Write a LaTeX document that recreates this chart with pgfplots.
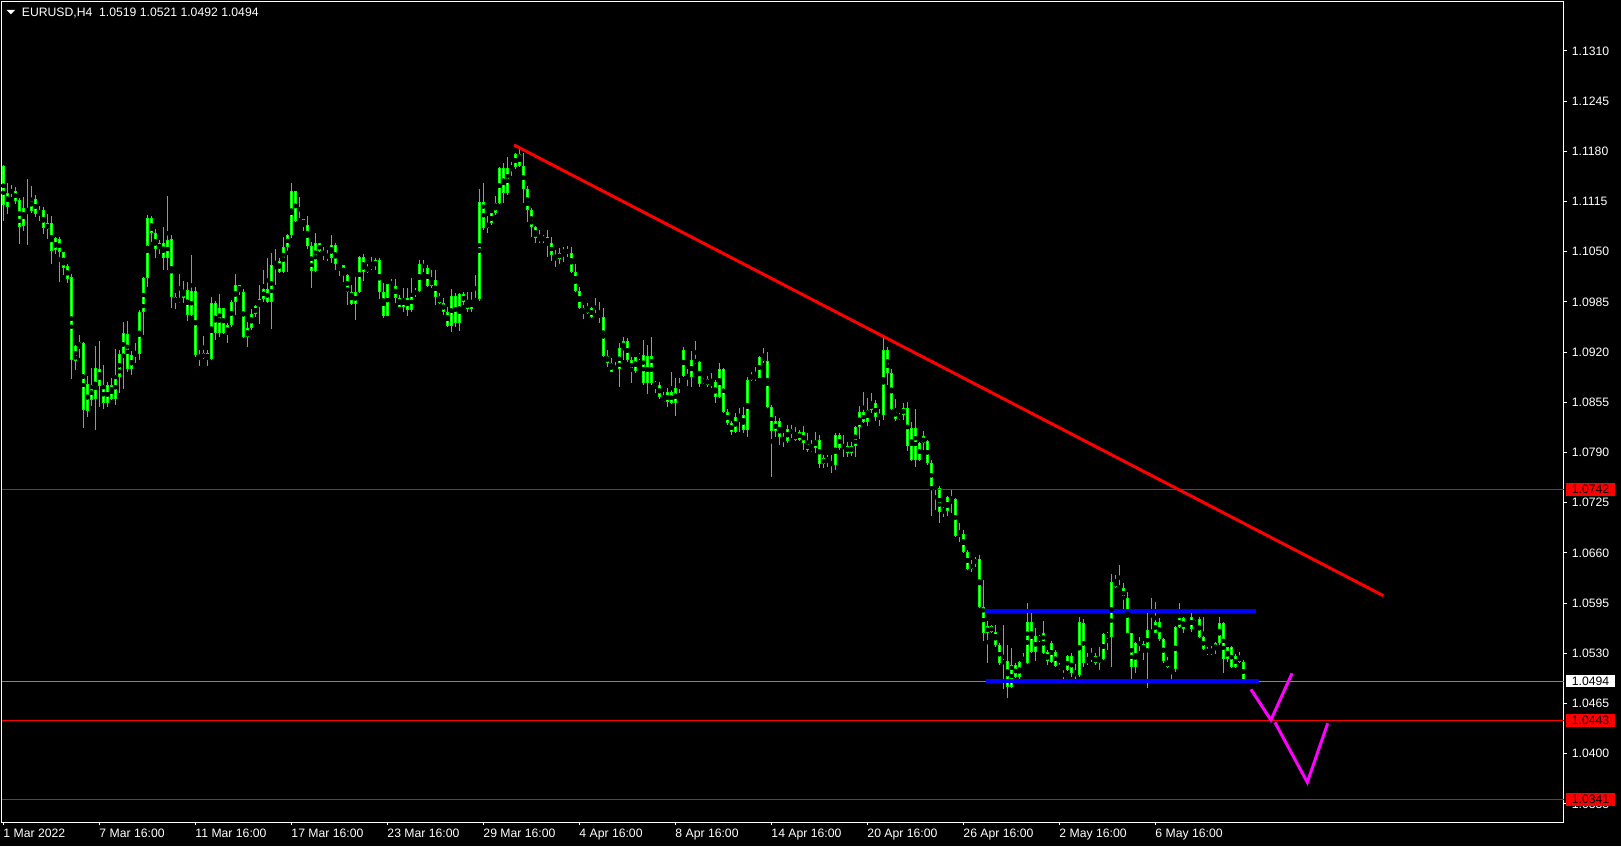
\documentclass[border=0pt]{standalone}
\usepackage{pgfplots}
\pgfplotsset{compat=1.18}
\usepackage{pgfplotstable}
\usepackage{fontspec}
\setmainfont{Liberation Sans}
\definecolor{mtgreen}{RGB}{0,255,0}
\definecolor{bidgray}{RGB}{119,136,153}
\definecolor{mtred}{RGB}{255,0,0}
\definecolor{mtblue}{RGB}{0,0,255}
\definecolor{mtmag}{RGB}{255,0,255}
\newcommand{\mtfont}{\fontsize{12.2}{14}\selectfont}

\pgfplotstableread{
i o h l c
0 1.1161 1.1163 1.1090 1.1110
1 1.1108 1.1139 1.1099 1.1126
2 1.1126 1.1136 1.1121 1.1130
3 1.1129 1.1134 1.1112 1.1116
4 1.1117 1.1120 1.1060 1.1082
5 1.1083 1.1121 1.1077 1.1107
6 1.1105 1.1144 1.1059 1.1103
7 1.1103 1.1135 1.1100 1.1120
8 1.1118 1.1123 1.1095 1.1099
9 1.1099 1.1109 1.1090 1.1104
10 1.1104 1.1108 1.1073 1.1081
11 1.1079 1.1099 1.1066 1.1087
12 1.1087 1.1096 1.1034 1.1051
13 1.1052 1.1069 1.1047 1.1068
14 1.1066 1.1069 1.1011 1.1050
15 1.1050 1.1050 1.1020 1.1029
16 1.1031 1.1034 1.1010 1.1015
17 1.1017 1.1021 1.0885 1.0910
18 1.0909 1.0929 1.0897 1.0928
19 1.0927 1.0942 1.0912 1.0933
20 1.0932 1.0933 1.0822 1.0845
21 1.0844 1.0889 1.0836 1.0879
22 1.0877 1.0899 1.0850 1.0858
23 1.0859 1.0928 1.0819 1.0899
24 1.0898 1.0934 1.0849 1.0876
25 1.0877 1.0903 1.0846 1.0854
26 1.0854 1.0881 1.0849 1.0877
27 1.0877 1.0887 1.0858 1.0860
28 1.0859 1.0924 1.0851 1.0890
29 1.0888 1.0923 1.0867 1.0918
30 1.0915 1.0959 1.0872 1.0945
31 1.0943 1.0960 1.0894 1.0898
32 1.0898 1.0921 1.0890 1.0916
33 1.0916 1.0932 1.0906 1.0918
34 1.0918 1.0975 1.0910 1.0972
35 1.0972 1.1017 1.0942 1.1016
36 1.1016 1.1098 1.1004 1.1094
37 1.1094 1.1096 1.1063 1.1074
38 1.1074 1.1079 1.1042 1.1053
39 1.1053 1.1065 1.1047 1.1061
40 1.1061 1.1082 1.1026 1.1042
41 1.1042 1.1122 1.1026 1.1065
42 1.1066 1.1072 1.0977 1.0991
43 1.0991 1.0997 1.0976 1.0985
44 1.0985 1.1021 1.0984 1.0990
45 1.0990 1.1012 1.0984 1.1000
46 1.1000 1.1011 1.0960 1.0968
47 1.0968 1.1046 1.0967 1.0999
48 1.0999 1.1004 1.0914 1.0916
49 1.0916 1.0923 1.0902 1.0912
50 1.0912 1.0941 1.0911 1.0919
51 1.0919 1.0923 1.0902 1.0911
52 1.0911 1.0991 1.0910 1.0984
53 1.0984 1.0986 1.0936 1.0945
54 1.0945 1.0995 1.0940 1.0977
55 1.0977 1.0977 1.0943 1.0945
56 1.0943 1.0958 1.0932 1.0955
57 1.0955 1.0988 1.0953 1.0985
58 1.0985 1.1021 1.0968 1.1007
59 1.1007 1.1007 1.0994 1.0998
60 1.0998 1.1002 1.0938 1.0940
61 1.0940 1.0959 1.0927 1.0951
62 1.0951 1.0976 1.0949 1.0969
63 1.0969 1.0981 1.0966 1.0980
64 1.0980 1.1007 1.0956 1.0989
65 1.0989 1.1026 1.0985 1.1002
66 1.1002 1.1042 1.0984 1.0985
67 1.0985 1.1048 1.0950 1.1033
68 1.1033 1.1053 1.1007 1.1038
69 1.1038 1.1042 1.1023 1.1024
70 1.1024 1.1069 1.1023 1.1056
71 1.1056 1.1073 1.1024 1.1072
72 1.1072 1.1139 1.1068 1.1129
73 1.1129 1.1129 1.1089 1.1090
74 1.1090 1.1121 1.1089 1.1092
75 1.1092 1.1093 1.1077 1.1085
76 1.1085 1.1096 1.1053 1.1057
77 1.1057 1.1063 1.1003 1.1025
78 1.1025 1.1074 1.1024 1.1061
79 1.1061 1.1062 1.1050 1.1051
80 1.1051 1.1056 1.1039 1.1046
81 1.1046 1.1052 1.1038 1.1042
82 1.1042 1.1072 1.1035 1.1059
83 1.1059 1.1061 1.1027 1.1034
84 1.1034 1.1037 1.1019 1.1033
85 1.1033 1.1033 1.1011 1.1020
86 1.1020 1.1021 1.0981 1.0998
87 1.0998 1.1007 1.0981 1.0982
88 1.0982 1.1017 1.0962 1.0998
89 1.0998 1.1044 1.0997 1.1043
90 1.1043 1.1047 1.1012 1.1024
91 1.1024 1.1034 1.1022 1.1030
92 1.1030 1.1043 1.1026 1.1031
93 1.1031 1.1042 1.1026 1.1039
94 1.1039 1.1042 1.0989 1.0998
95 1.0998 1.1010 1.0964 1.0967
96 1.0967 1.1008 1.0967 1.1008
97 1.1008 1.1015 1.1004 1.1006
98 1.1006 1.1015 1.0984 1.0990
99 1.0990 1.0994 1.0978 1.0978
100 1.0978 1.1003 1.0972 1.0990
101 1.0990 1.1003 1.0967 1.0975
102 1.0975 1.1016 1.0972 1.0995
103 1.0995 1.1003 1.0991 1.0999
104 1.0999 1.1039 1.0998 1.1034
105 1.1034 1.1039 1.1024 1.1029
106 1.1029 1.1033 1.1004 1.1006
107 1.1006 1.1026 1.1003 1.1013
108 1.1013 1.1026 1.0981 1.0991
109 1.0991 1.0997 1.0982 1.0984
110 1.0984 1.0990 1.0968 1.0972
111 1.0972 1.0978 1.0953 1.0954
112 1.0954 1.1002 1.0946 1.0993
113 1.0993 1.0997 1.0953 1.0958
114 1.0958 1.0997 1.0947 1.0995
115 1.0995 1.0998 1.0981 1.0985
116 1.0985 1.0998 1.0972 1.0976
117 1.0976 1.0998 1.0972 1.0986
118 1.0986 1.1020 1.0985 1.0989
119 1.0989 1.1131 1.0986 1.1114
120 1.1114 1.1139 1.1078 1.1081
121 1.1081 1.1096 1.1074 1.1087
122 1.1087 1.1100 1.1085 1.1100
123 1.1100 1.1122 1.1098 1.1113
124 1.1113 1.1160 1.1112 1.1158
125 1.1158 1.1165 1.1113 1.1126
126 1.1126 1.1173 1.1123 1.1158
127 1.1158 1.1166 1.1148 1.1160
128 1.1160 1.1178 1.1157 1.1177
129 1.1177 1.1187 1.1160 1.1161
130 1.1161 1.1178 1.1113 1.1131
131 1.1131 1.1135 1.1089 1.1104
132 1.1104 1.1107 1.1069 1.1082
133 1.1082 1.1083 1.1061 1.1068
134 1.1068 1.1078 1.1061 1.1065
135 1.1065 1.1072 1.1061 1.1069
136 1.1069 1.1078 1.1043 1.1061
137 1.1061 1.1069 1.1038 1.1046
138 1.1046 1.1052 1.1030 1.1041
139 1.1041 1.1055 1.1034 1.1048
140 1.1048 1.1056 1.1037 1.1052
141 1.1052 1.1057 1.1043 1.1049
142 1.1049 1.1056 1.1022 1.1024
143 1.1024 1.1034 1.0998 1.0999
144 1.0999 1.1004 1.0976 1.0977
145 1.0977 1.0981 1.0963 1.0971
146 1.0971 1.0984 1.0970 1.0977
147 1.0977 1.0978 1.0964 1.0966
148 1.0966 1.0990 1.0965 1.0969
149 1.0969 1.0985 1.0958 1.0966
150 1.0966 1.0977 1.0914 1.0915
151 1.0915 1.0923 1.0901 1.0906
152 1.0906 1.0912 1.0894 1.0894
153 1.0894 1.0907 1.0893 1.0898
154 1.0898 1.0932 1.0875 1.0925
155 1.0925 1.0940 1.0910 1.0934
156 1.0934 1.0938 1.0907 1.0910
157 1.0910 1.0914 1.0880 1.0896
158 1.0896 1.0914 1.0893 1.0914
159 1.0914 1.0919 1.0910 1.0916
160 1.0916 1.0936 1.0877 1.0880
161 1.0880 1.0929 1.0866 1.0915
162 1.0915 1.0940 1.0877 1.0880
163 1.0880 1.0883 1.0867 1.0877
164 1.0877 1.0881 1.0860 1.0862
165 1.0862 1.0868 1.0855 1.0855
166 1.0855 1.0873 1.0849 1.0868
167 1.0868 1.0894 1.0853 1.0854
168 1.0854 1.0887 1.0837 1.0873
169 1.0873 1.0887 1.0867 1.0877
170 1.0889 1.0927 1.0888 1.0923
171 1.0890 1.0898 1.0876 1.0888
172 1.0888 1.0921 1.0875 1.0910
173 1.0906 1.0934 1.0905 1.0911
174 1.0907 1.0908 1.0875 1.0879
175 1.0880 1.0887 1.0879 1.0885
176 1.0885 1.0889 1.0875 1.0877
177 1.0877 1.0893 1.0873 1.0881
178 1.0881 1.0884 1.0854 1.0862
179 1.0862 1.0906 1.0861 1.0898
180 1.0898 1.0899 1.0841 1.0842
181 1.0842 1.0846 1.0826 1.0828
182 1.0828 1.0831 1.0813 1.0817
183 1.0817 1.0841 1.0815 1.0836
184 1.0836 1.0848 1.0817 1.0839
185 1.0839 1.0849 1.0815 1.0819
186 1.0819 1.0888 1.0810 1.0884
187 1.0884 1.0894 1.0883 1.0890
188 1.0890 1.0901 1.0883 1.0885
189 1.0886 1.0915 1.0886 1.0914
190 1.0914 1.0925 1.0906 1.0909
191 1.0909 1.0920 1.0848 1.0849
192 1.0849 1.0851 1.0758 1.0818
193 1.0818 1.0837 1.0810 1.0831
194 1.0831 1.0835 1.0800 1.0810
195 1.0810 1.0815 1.0797 1.0805
196 1.0805 1.0826 1.0802 1.0820
197 1.0820 1.0826 1.0809 1.0814
198 1.0814 1.0823 1.0805 1.0806
199 1.0806 1.0819 1.0805 1.0817
200 1.0817 1.0824 1.0793 1.0802
201 1.0802 1.0815 1.0791 1.0793
202 1.0793 1.0806 1.0791 1.0796
203 1.0796 1.0817 1.0790 1.0806
204 1.0806 1.0813 1.0770 1.0775
205 1.0775 1.0787 1.0770 1.0783
206 1.0783 1.0787 1.0771 1.0779
207 1.0779 1.0787 1.0763 1.0774
208 1.0774 1.0815 1.0767 1.0813
209 1.0813 1.0815 1.0793 1.0796
210 1.0796 1.0813 1.0784 1.0798
211 1.0798 1.0804 1.0784 1.0790
212 1.0790 1.0804 1.0785 1.0798
213 1.0798 1.0824 1.0784 1.0823
214 1.0823 1.0850 1.0807 1.0842
215 1.0842 1.0868 1.0828 1.0830
216 1.0830 1.0860 1.0824 1.0845
217 1.0845 1.0867 1.0841 1.0854
218 1.0854 1.0858 1.0831 1.0836
219 1.0836 1.0846 1.0824 1.0839
220 1.0839 1.0938 1.0832 1.0923
221 1.0923 1.0927 1.0877 1.0893
222 1.0893 1.0898 1.0845 1.0846
223 1.0846 1.0859 1.0831 1.0833
224 1.0833 1.0841 1.0832 1.0839
225 1.0839 1.0854 1.0832 1.0848
226 1.0848 1.0855 1.0792 1.0798
227 1.0780 1.0830 1.0779 1.0822
228 1.0822 1.0846 1.0771 1.0780
229 1.0780 1.0804 1.0779 1.0802
230 1.0802 1.0818 1.0793 1.0811
231 1.0805 1.0806 1.0774 1.0776
232 1.0776 1.0780 1.0708 1.0745
233 1.0745 1.0748 1.0716 1.0744
234 1.0744 1.0746 1.0699 1.0713
235 1.0713 1.0720 1.0707 1.0718
236 1.0714 1.0734 1.0708 1.0732
237 1.0732 1.0741 1.0712 1.0730
238 1.0730 1.0731 1.0681 1.0682
239 1.0682 1.0699 1.0674 1.0685
240 1.0685 1.0690 1.0660 1.0661
241 1.0661 1.0664 1.0638 1.0639
242 1.0639 1.0651 1.0635 1.0646
243 1.0646 1.0655 1.0642 1.0652
244 1.0652 1.0657 1.0589 1.0590
245 1.0590 1.0625 1.0546 1.0556
246 1.0556 1.0572 1.0517 1.0565
247 1.0565 1.0567 1.0556 1.0558
248 1.0558 1.0567 1.0538 1.0541
249 1.0541 1.0543 1.0515 1.0517
250 1.0517 1.0567 1.0484 1.0520
251 1.0520 1.0541 1.0472 1.0486
252 1.0486 1.0537 1.0485 1.0515
253 1.0515 1.0517 1.0498 1.0499
254 1.0499 1.0520 1.0493 1.0519
255 1.0519 1.0530 1.0516 1.0517
256 1.0517 1.0595 1.0516 1.0571
257 1.0571 1.0582 1.0530 1.0532
258 1.0532 1.0563 1.0520 1.0552
259 1.0552 1.0554 1.0545 1.0546
260 1.0556 1.0572 1.0529 1.0530
261 1.0532 1.0534 1.0515 1.0520
262 1.0519 1.0546 1.0517 1.0543
263 1.0532 1.0534 1.0512 1.0514
264 1.0514 1.0517 1.0508 1.0510
265 1.0510 1.0513 1.0491 1.0512
266 1.0508 1.0528 1.0507 1.0526
267 1.0526 1.0530 1.0499 1.0504
268 1.0504 1.0516 1.0495 1.0502
269 1.0502 1.0577 1.0499 1.0571
270 1.0569 1.0574 1.0512 1.0517
271 1.0517 1.0530 1.0515 1.0523
272 1.0523 1.0537 1.0519 1.0526
273 1.0526 1.0530 1.0515 1.0517
274 1.0517 1.0538 1.0508 1.0524
275 1.0523 1.0556 1.0521 1.0555
276 1.0555 1.0558 1.0534 1.0551
277 1.0551 1.0633 1.0512 1.0623
278 1.0623 1.0632 1.0615 1.0616
279 1.0616 1.0644 1.0612 1.0614
280 1.0614 1.0621 1.0583 1.0602
281 1.0602 1.0609 1.0556 1.0556
282 1.0556 1.0557 1.0494 1.0512
283 1.0512 1.0545 1.0504 1.0543
284 1.0543 1.0551 1.0533 1.0542
285 1.0542 1.0546 1.0521 1.0534
286 1.0534 1.0583 1.0485 1.0560
287 1.0560 1.0602 1.0556 1.0556
288 1.0556 1.0596 1.0556 1.0571
289 1.0571 1.0576 1.0546 1.0549
290 1.0549 1.0550 1.0517 1.0520
291 1.0520 1.0525 1.0511 1.0512
292 1.0512 1.0514 1.0497 1.0510
293 1.0510 1.0565 1.0506 1.0564
294 1.0564 1.0595 1.0563 1.0576
295 1.0576 1.0577 1.0556 1.0561
296 1.0561 1.0564 1.0560 1.0562
297 1.0562 1.0583 1.0558 1.0577
298 1.0577 1.0586 1.0572 1.0574
299 1.0574 1.0577 1.0550 1.0551
300 1.0551 1.0577 1.0534 1.0535
301 1.0535 1.0538 1.0528 1.0530
302 1.0530 1.0539 1.0528 1.0534
303 1.0534 1.0544 1.0529 1.0543
304 1.0543 1.0577 1.0541 1.0569
305 1.0569 1.0570 1.0504 1.0523
306 1.0523 1.0538 1.0519 1.0538
307 1.0538 1.0540 1.0511 1.0512
308 1.0512 1.0529 1.0511 1.0526
309 1.0526 1.0532 1.0517 1.0519
310 1.0519 1.0521 1.0492 1.0494
}\ohlc

\begin{document}
\begin{tikzpicture}[x=1pt,y=1pt]
\fill[black] (0,0) rectangle (1621,846);
\useasboundingbox (0,0) rectangle (1621,846);
\begin{axis}[
  at={(2pt,24pt)}, anchor=south west,
  scale only axis, width=1562pt, height=820pt,
  xmin=-0.325, xmax=390.175, ymin=1.03115, ymax=1.13734,
  axis line style={white, line width=1pt},
  tick style={white, line width=1pt},
  tick align=outside, major tick length=3pt,
  xtick pos=left, ytick pos=right, yticklabel pos=right,
  xtick={0,24,48,72,96,120,144,168,192,216,240,264,288},
  xticklabels={1 Mar 2022,7 Mar 16:00,11 Mar 16:00,17 Mar 16:00,23 Mar 16:00,29 Mar 16:00,4 Apr 16:00,8 Apr 16:00,14 Apr 16:00,20 Apr 16:00,26 Apr 16:00,2 May 16:00,6 May 16:00},
  ytick={1.0335,1.0400,1.0465,1.0530,1.0595,1.0660,1.0725,1.0790,1.0855,1.0920,1.0985,1.1050,1.1115,1.1180,1.1245,1.1310},
  yticklabels={1.0335,1.0400,1.0465,1.0530,1.0595,1.0660,1.0725,1.0790,1.0855,1.0920,1.0985,1.1050,1.1115,1.1180,1.1245,1.1310},
  every tick label/.append style={font=\mtfont, text=white, inner sep=0pt},
  xticklabel style={anchor=north west, yshift=-4pt},
  yticklabel style={anchor=west, xshift=4.7pt},
]
% wicks
\addplot[only marks, mark=none, forget plot,
  error bars/.cd, y dir=both, y explicit, error mark=none,
  error bar style={mtgreen, line width=1pt}]
  table[x=i, y expr={(\thisrow{h}+\thisrow{l})/2}, y error expr={(\thisrow{h}-\thisrow{l})/2}] {\ohlc};
% bodies (outline)
\addplot[only marks, mark=none, forget plot,
  error bars/.cd, y dir=both, y explicit, error mark=none,
  error bar style={mtgreen, line width=3pt}]
  table[x=i, y expr={(\thisrow{o}+\thisrow{c})/2}, y error expr={max(abs(\thisrow{o}-\thisrow{c})/2,0.000065)}] {\ohlc};
% body interior (white)
\addplot[only marks, mark=none, forget plot,
  error bars/.cd, y dir=both, y explicit, error mark=none,
  error bar style={white, line width=1pt}]
  table[x=i, y expr={(\thisrow{o}+\thisrow{c})/2}, y error expr={max(abs(\thisrow{o}-\thisrow{c})/2-0.00013,0)}] {\ohlc};
% horizontal levels
\addplot[mtred, line width=1pt] coordinates {(-0.325,1.0742) (390.175,1.0742)};
\addplot[mtred, line width=1pt] coordinates {(-0.325,1.0443) (390.175,1.0443)};
\addplot[mtred, line width=1pt] coordinates {(-0.325,1.0341) (390.175,1.0341)};
\addplot[bidgray, line width=1pt] coordinates {(-0.325,1.0494) (390.175,1.0494)};
% range box lines
\addplot[mtblue, line width=4pt, line cap=butt] coordinates {(245.4,1.05845) (313.1,1.05845)};
\addplot[mtblue, line width=4pt, line cap=butt] coordinates {(245.7,1.04941) (314.0,1.04941)};
% trend line
\addplot[mtred, line width=3pt] coordinates {(127.7,1.11882) (345.0,1.06046)};
% zigzag projection
\addplot[mtmag, line width=3pt] coordinates {(311.9,1.04834) (316.9,1.04436) (322.2,1.05041)};
\addplot[mtmag, line width=3pt] coordinates {(317.9,1.04406) (326.0,1.03629) (331.1,1.04393)};
\coordinate (b1) at (axis cs:390.175,1.0742);
\coordinate (b2) at (axis cs:390.175,1.0494);
\coordinate (b3) at (axis cs:390.175,1.0443);
\coordinate (b4) at (axis cs:390.175,1.0341);
\end{axis}
\begin{scope}[shift={(b1)}]
\fill[mtred] (2,-6.4) rectangle (51,6.4);
\node[anchor=west, inner sep=0pt, text=black, font=\mtfont] at (7.7,0) {1.0742};
\end{scope}
\begin{scope}[shift={(b2)}]
\fill[white] (2,-6.4) rectangle (51,6.4);
\node[anchor=west, inner sep=0pt, text=black, font=\mtfont] at (7.7,0) {1.0494};
\end{scope}
\begin{scope}[shift={(b3)}]
\fill[mtred] (2,-6.4) rectangle (51,6.4);
\node[anchor=west, inner sep=0pt, text=black, font=\mtfont] at (7.7,0) {1.0443};
\end{scope}
\begin{scope}[shift={(b4)}]
\fill[mtred] (2,-6.4) rectangle (51,6.4);
\node[anchor=west, inner sep=0pt, text=black, font=\mtfont] at (7.7,0) {1.0341};
\end{scope}
% title
\fill[white] (6.7,836) -- (15,836) -- (10.85,831.7) -- cycle;
\node[anchor=base west, inner sep=0pt, text=white, font=\mtfont] at (21.7,829.3) {EURUSD,H4\hspace{0.556em}1.0519 1.0521 1.0492 1.0494};
\end{tikzpicture}
\end{document}
